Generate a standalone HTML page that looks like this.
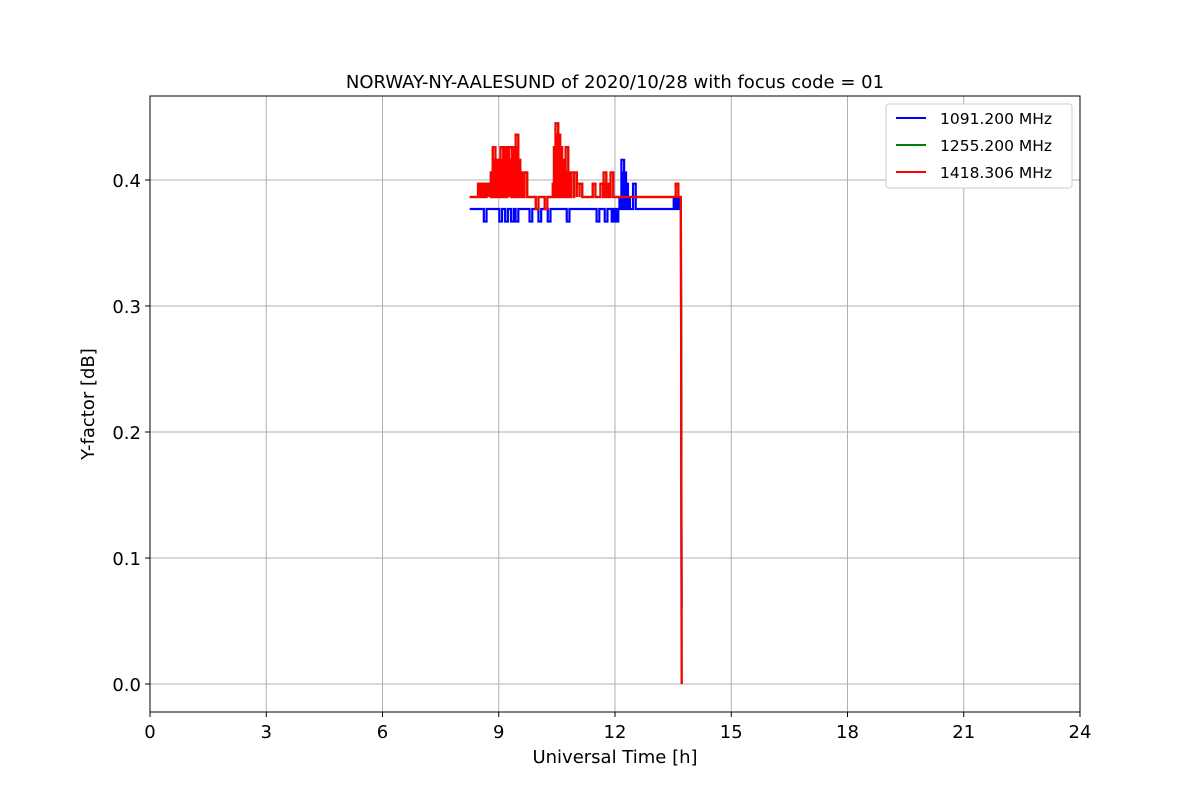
<!DOCTYPE html>
<html><head><meta charset="utf-8"><style>
body{margin:0;background:#fff}
svg text{font-family:"DejaVu Sans","Liberation Sans",sans-serif}
</style></head><body>
<svg id="chart" width="1200" height="800">
</svg>
<script>
const xTicks=[0,3,6,9,12,15,18,21,24];
const yTicks=[0.0,0.1,0.2,0.3,0.4];
const seriesNames=["1091.200 MHz","1255.200 MHz","1418.306 MHz"];
const seriesColors=["#0000ff","#008000","#ff0000"];
const startTime=8.25, endTime=13.7;
const redBase=0.3865, blueBase=0.377;
const redSpikeTimes=[8.5,8.55,8.6,8.65,8.7,8.77,8.83,8.88,8.93,8.98,9.03,9.08,9.13,9.19,9.24,9.31,9.36,9.42,9.47,9.52,9.57,9.62,9.70,9.99,10.22,10.43,10.46,10.5,10.55,10.6,10.65,10.71,10.76,10.8,10.9,10.98,11.05,11.12,11.46,11.66,11.74,11.8,11.92,13.6];
const redSpikeVals=[0.397,0.397,0.397,0.397,0.397,0.397,0.406,0.426,0.416,0.406,0.416,0.426,0.416,0.426,0.426,0.426,0.416,0.426,0.436,0.416,0.406,0.397,0.406,0.377,0.377,0.397,0.426,0.445,0.436,0.426,0.416,0.406,0.426,0.406,0.406,0.406,0.397,0.397,0.397,0.397,0.406,0.397,0.406,0.397];
const blueSpikeTimes=[8.65,9.05,9.2,9.35,9.47,9.83,10.06,10.3,10.79,11.56,11.77,11.95,12.0,12.05,12.15,12.2,12.25,12.3,12.35,12.5,13.55,13.6,13.65];
const blueSpikeVals=[0.367,0.367,0.367,0.367,0.367,0.367,0.367,0.367,0.367,0.367,0.367,0.367,0.367,0.367,0.386,0.416,0.406,0.397,0.386,0.397,0.386,0.386,0.386];
const blueEndVal=0.06, redEndVal=0.0;

const L=150,R=1080,T=96,B=712;
const X=t=>L+(t/24)*(R-L);
const Y=v=>684-(v/0.4)*(684-180);
const svg=document.getElementById('chart');
const NS="http://www.w3.org/2000/svg";
function mk(tag,attrs,parent){const e=document.createElementNS(NS,tag);for(const k in attrs)e.setAttribute(k,attrs[k]);(parent||svg).appendChild(e);return e;}

xTicks.forEach(t=>{const g=mk('line',{x1:X(t),x2:X(t),y1:T,y2:B,stroke:'#b0b0b0','stroke-width':1});

});
yTicks.forEach(v=>{const g=mk('line',{x1:L,x2:R,y1:Y(v),y2:Y(v),stroke:'#b0b0b0','stroke-width':1});

});

function seriesPath(base,times,vals,endV){
  const w=0.035;
  let d=`M${X(startTime)},${Y(base)}`;
  times.forEach((t,i)=>{d+=` L${X(t-w)},${Y(base)} L${X(t-w)},${Y(vals[i])} L${X(t+w)},${Y(vals[i])} L${X(t+w)},${Y(base)}`;});
  d+=` L${X(endTime)},${Y(base)} L${X(endTime+0.02)},${Y(endV)}`;
  return d;
}
const bp=mk('path',{d:seriesPath(blueBase,blueSpikeTimes,blueSpikeVals,blueEndVal),fill:'none',stroke:seriesColors[0],'stroke-width':2.2});


const gp=mk('path',{d:seriesPath(redBase,redSpikeTimes,redSpikeVals,redEndVal),fill:'none',stroke:seriesColors[1],'stroke-width':2.2});


const rp=mk('path',{d:seriesPath(redBase,redSpikeTimes,redSpikeVals,redEndVal),fill:'none',stroke:seriesColors[2],'stroke-width':2.2});



const fr=mk('rect',{x:L,y:T,width:R-L,height:B-T,fill:'none',stroke:'#000','stroke-width':1});



xTicks.forEach(t=>{mk('line',{x1:X(t),x2:X(t),y1:B,y2:B+5,stroke:'#000'});
const tx=mk('text',{x:X(t),y:B+26,'font-size':18,'text-anchor':'middle'});tx.textContent=t;

});
yTicks.forEach(v=>{mk('line',{x1:L-5,x2:L,y1:Y(v),y2:Y(v),stroke:'#000'});
const tx=mk('text',{x:L-9,y:Y(v)+7,'font-size':18,'text-anchor':'end'});tx.textContent=v.toFixed(1);

});

const title=mk('text',{x:615,y:88,'font-size':18,'text-anchor':'middle'});title.textContent='NORWAY-NY-AALESUND of 2020/10/28 with focus code = 01';


const xl=mk('text',{x:615,y:763,'font-size':18,'text-anchor':'middle'});xl.textContent='Universal Time [h]';


const yl=mk('text',{x:94,y:404,'font-size':18,'text-anchor':'middle',transform:'rotate(-90 94 404)'});yl.textContent='Y-factor [dB]';



const lg=mk('rect',{x:886,y:104,width:186,height:84,rx:3,fill:'#fff',stroke:'#ccc'});


seriesNames.forEach((n,i)=>{const y=118+i*27;
const ln=mk('line',{x1:896,x2:926,y1:y,y2:y,stroke:seriesColors[i],'stroke-width':2});


const tx=mk('text',{x:940,y:y+6,'font-size':15.5});tx.textContent=n;

});
</script>
</body></html>
